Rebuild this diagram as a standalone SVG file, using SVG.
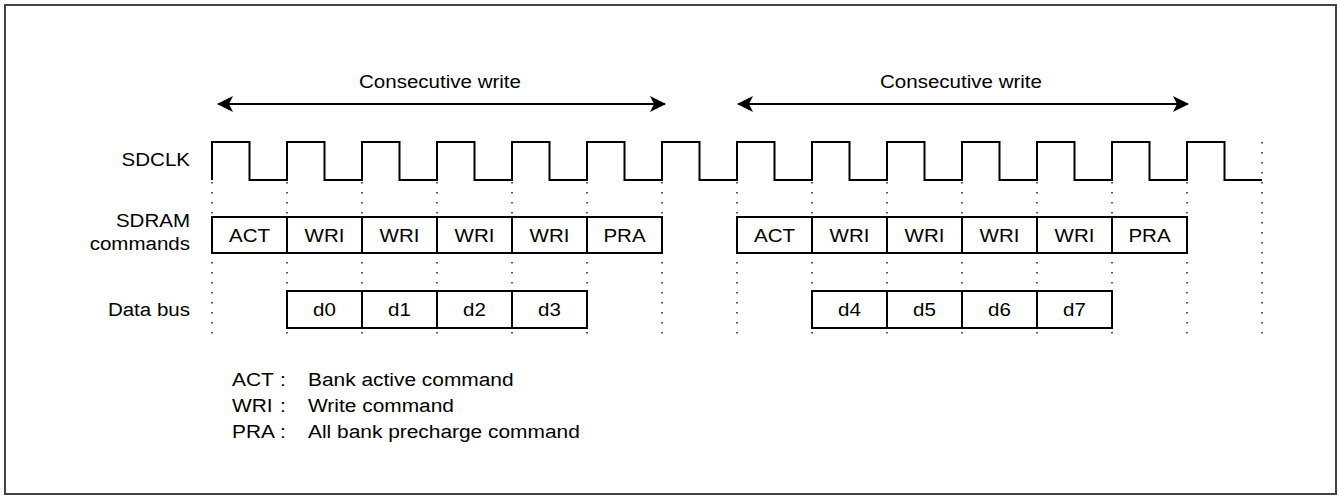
<svg xmlns="http://www.w3.org/2000/svg" width="1339" height="499" viewBox="0 0 1339 499">
<style>
text{font-family:"Liberation Sans",Arial,sans-serif;font-size:19px;fill:#000}
.mid{text-anchor:middle}
.end{text-anchor:end}
.box{fill:#fff;stroke:#000;stroke-width:2}
.dot{stroke:#222;stroke-width:1.5;stroke-dasharray:1.5 8.5;fill:none}
.wave{fill:none;stroke:#000;stroke-width:2}
.arr{stroke:#000;stroke-width:2;fill:none}
</style>
<defs>
<marker id="ah" viewBox="0 0 16 16" refX="15" refY="8" markerWidth="16" markerHeight="16" markerUnits="userSpaceOnUse" orient="auto-start-reverse">
<path d="M0,0 L16,8 L0,16 L4,8 Z" fill="#000"/>
</marker>
</defs>
<rect x="5" y="5" width="1331" height="489" fill="#fff" stroke="#444" stroke-width="2"/>
<g id="guides">
<path class="dot" d="M212,182V336M287,182V336M362,182V336M437,182V336M512,182V336M587,182V336M662,182V336M737,182V336M812,182V336M887,182V336M962,182V336M1037,182V336M1112,182V336M1187,182V336M1262,142V336"/>
</g>
<g id="connectors">
<line class="arr" x1="218" y1="104" x2="665" y2="104" marker-start="url(#ah)" marker-end="url(#ah)"/>
<line class="arr" x1="738" y1="104" x2="1188" y2="104" marker-start="url(#ah)" marker-end="url(#ah)"/>
</g>
<g id="titles">
<text class="mid" transform="translate(440,88) scale(1.08,1)">Consecutive write</text>
<text class="mid" transform="translate(961,88) scale(1.08,1)">Consecutive write</text>
</g>
<g id="sdclk">
<text class="end" transform="translate(190,166) scale(1.08,1)">SDCLK</text>
<path class="wave" d="M212,180V142H249.5V180H287V142H324.5V180H362V142H399.5V180H437V142H474.5V180H512V142H549.5V180H587V142H624.5V180H662V142H699.5V180H737V142H774.5V180H812V142H849.5V180H887V142H924.5V180H962V142H999.5V180H1037V142H1074.5V180H1112V142H1149.5V180H1187V142H1224.5V180H1262"/>
</g>
<g id="commands">
<text class="end" transform="translate(190,227) scale(1.08,1)">SDRAM</text>
<text class="end" transform="translate(190,250) scale(1.08,1)">commands</text>
<rect class="box" x="212" y="217" width="75" height="36"/>
<rect class="box" x="287" y="217" width="75" height="36"/>
<rect class="box" x="362" y="217" width="75" height="36"/>
<rect class="box" x="437" y="217" width="75" height="36"/>
<rect class="box" x="512" y="217" width="75" height="36"/>
<rect class="box" x="587" y="217" width="75" height="36"/>
<text class="mid" transform="translate(249.5,242) scale(1.08,1)">ACT</text>
<text class="mid" transform="translate(324.5,242) scale(1.08,1)">WRI</text>
<text class="mid" transform="translate(399.5,242) scale(1.08,1)">WRI</text>
<text class="mid" transform="translate(474.5,242) scale(1.08,1)">WRI</text>
<text class="mid" transform="translate(549.5,242) scale(1.08,1)">WRI</text>
<text class="mid" transform="translate(624.5,242) scale(1.08,1)">PRA</text>
<rect class="box" x="737" y="217" width="75" height="36"/>
<rect class="box" x="812" y="217" width="75" height="36"/>
<rect class="box" x="887" y="217" width="75" height="36"/>
<rect class="box" x="962" y="217" width="75" height="36"/>
<rect class="box" x="1037" y="217" width="75" height="36"/>
<rect class="box" x="1112" y="217" width="75" height="36"/>
<text class="mid" transform="translate(774.5,242) scale(1.08,1)">ACT</text>
<text class="mid" transform="translate(849.5,242) scale(1.08,1)">WRI</text>
<text class="mid" transform="translate(924.5,242) scale(1.08,1)">WRI</text>
<text class="mid" transform="translate(999.5,242) scale(1.08,1)">WRI</text>
<text class="mid" transform="translate(1074.5,242) scale(1.08,1)">WRI</text>
<text class="mid" transform="translate(1149.5,242) scale(1.08,1)">PRA</text>
</g>
<g id="databus">
<text class="end" transform="translate(190,316) scale(1.08,1)">Data bus</text>
<rect class="box" x="287" y="291" width="75" height="37"/>
<rect class="box" x="362" y="291" width="75" height="37"/>
<rect class="box" x="437" y="291" width="75" height="37"/>
<rect class="box" x="512" y="291" width="75" height="37"/>
<text class="mid" transform="translate(324.5,316) scale(1.08,1)">d0</text>
<text class="mid" transform="translate(399.5,316) scale(1.08,1)">d1</text>
<text class="mid" transform="translate(474.5,316) scale(1.08,1)">d2</text>
<text class="mid" transform="translate(549.5,316) scale(1.08,1)">d3</text>
<rect class="box" x="812" y="291" width="75" height="37"/>
<rect class="box" x="887" y="291" width="75" height="37"/>
<rect class="box" x="962" y="291" width="75" height="37"/>
<rect class="box" x="1037" y="291" width="75" height="37"/>
<text class="mid" transform="translate(849.5,316) scale(1.08,1)">d4</text>
<text class="mid" transform="translate(924.5,316) scale(1.08,1)">d5</text>
<text class="mid" transform="translate(999.5,316) scale(1.08,1)">d6</text>
<text class="mid" transform="translate(1074.5,316) scale(1.08,1)">d7</text>
</g>
<g id="legend">
<text transform="translate(232,386) scale(1.1,1)">ACT</text><text transform="translate(280,386) scale(1.1,1)">:</text><text transform="translate(308,386) scale(1.1,1)">Bank active command</text>
<text transform="translate(232,412) scale(1.1,1)">WRI</text><text transform="translate(280,412) scale(1.1,1)">:</text><text transform="translate(308,412) scale(1.1,1)">Write command</text>
<text transform="translate(232,438) scale(1.1,1)">PRA</text><text transform="translate(280,438) scale(1.1,1)">:</text><text transform="translate(308,438) scale(1.1,1)">All bank precharge command</text>
</g>
</svg>
